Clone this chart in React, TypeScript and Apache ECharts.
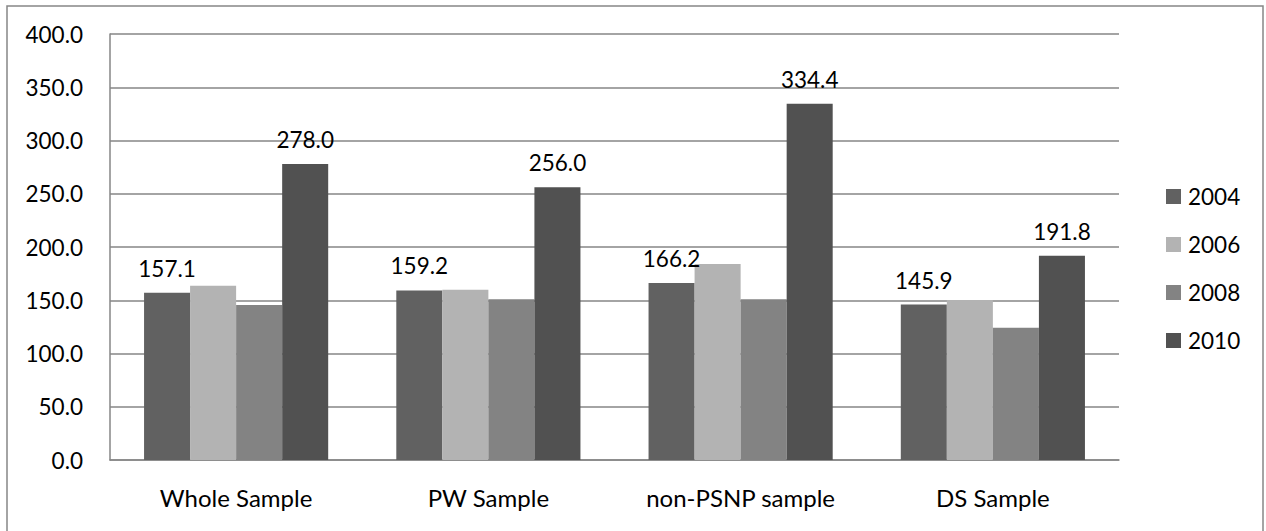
import React, { useEffect, useRef } from "react";
import * as echarts from "echarts";

const categories = ["Whole Sample", "PW Sample", "non-PSNP sample", "DS Sample"];
const seriesNames = ["2004", "2006", "2008", "2010"];
const values2004 = [157.1, 159.2, 166.2, 145.9];
const values2006 = [163.7, 159.9, 184.0, 150.2];
const values2008 = [145.5, 150.9, 150.9, 124.2];
const values2010 = [278.0, 256.0, 334.4, 191.8];
const colors = ["#616161", "#b3b3b3", "#838383", "#515151"];
const showLabel = [true, false, false, true];

export default function App() {
  const ref = useRef<HTMLDivElement>(null);
  useEffect(() => {
    document.body.style.margin = "0";
    if (!ref.current) return;
    const chart = echarts.init(ref.current, undefined, { renderer: "svg" });
    const font = "Lato";
    const allValues = [values2004, values2006, values2008, values2010];
    chart.setOption({
      animation: false,
      backgroundColor: "#ffffff",
      textStyle: { fontFamily: font },
      graphic: [
        {
          type: "rect",
          shape: { x: 7, y: 6, width: 1256, height: 540 },
          style: { fill: "none", stroke: "#868686", lineWidth: 1.5 },
          silent: true,
        },
      ],
      grid: { left: 110, right: 147, top: 34, bottom: 71, containLabel: false },
      legend: {
        orient: "vertical",
        left: 1161,
        top: 180,
        itemWidth: 15,
        itemHeight: 15,
        itemGap: 25,
        icon: "rect",
        data: seriesNames,
        textStyle: { fontFamily: font, fontSize: 22.5, color: "#000", lineHeight: 23, padding: [0, 0, 0, 2] },
      },
      xAxis: {
        type: "category",
        data: categories,
        axisLine: { show: true, lineStyle: { color: "#868686", width: 1.5 } },
        axisTick: { show: false },
        axisLabel: { fontFamily: font, fontSize: 24, color: "#000", margin: 25 },
      },
      yAxis: {
        type: "value",
        min: 0,
        max: 400,
        interval: 50,
        axisLine: { show: true, lineStyle: { color: "#868686", width: 1.5 } },
        axisTick: { show: false },
        splitLine: { show: true, lineStyle: { color: "#868686", width: 1.5 } },
        axisLabel: {
          fontFamily: font,
          fontSize: 22.5,
          color: "#000",
          margin: 27,
          formatter: (v: number) => v.toFixed(1),
        },
      },
      series: seriesNames.map((name, i) => ({
        name,
        type: "bar",
        data: allValues[i],
        barGap: "0%",
        barCategoryGap: "27%",
        itemStyle: { color: colors[i] },
        label: {
          show: showLabel[i],
          position: "top",
          distance: 13,
          fontFamily: font,
          fontSize: 22.5,
          color: "#000",
          formatter: (p: any) => Number(p.value).toFixed(1),
        },
      })),
    });
    return () => chart.dispose();
  }, []);
  return <div ref={ref} style={{ width: 1266, height: 531 }} />;
}
